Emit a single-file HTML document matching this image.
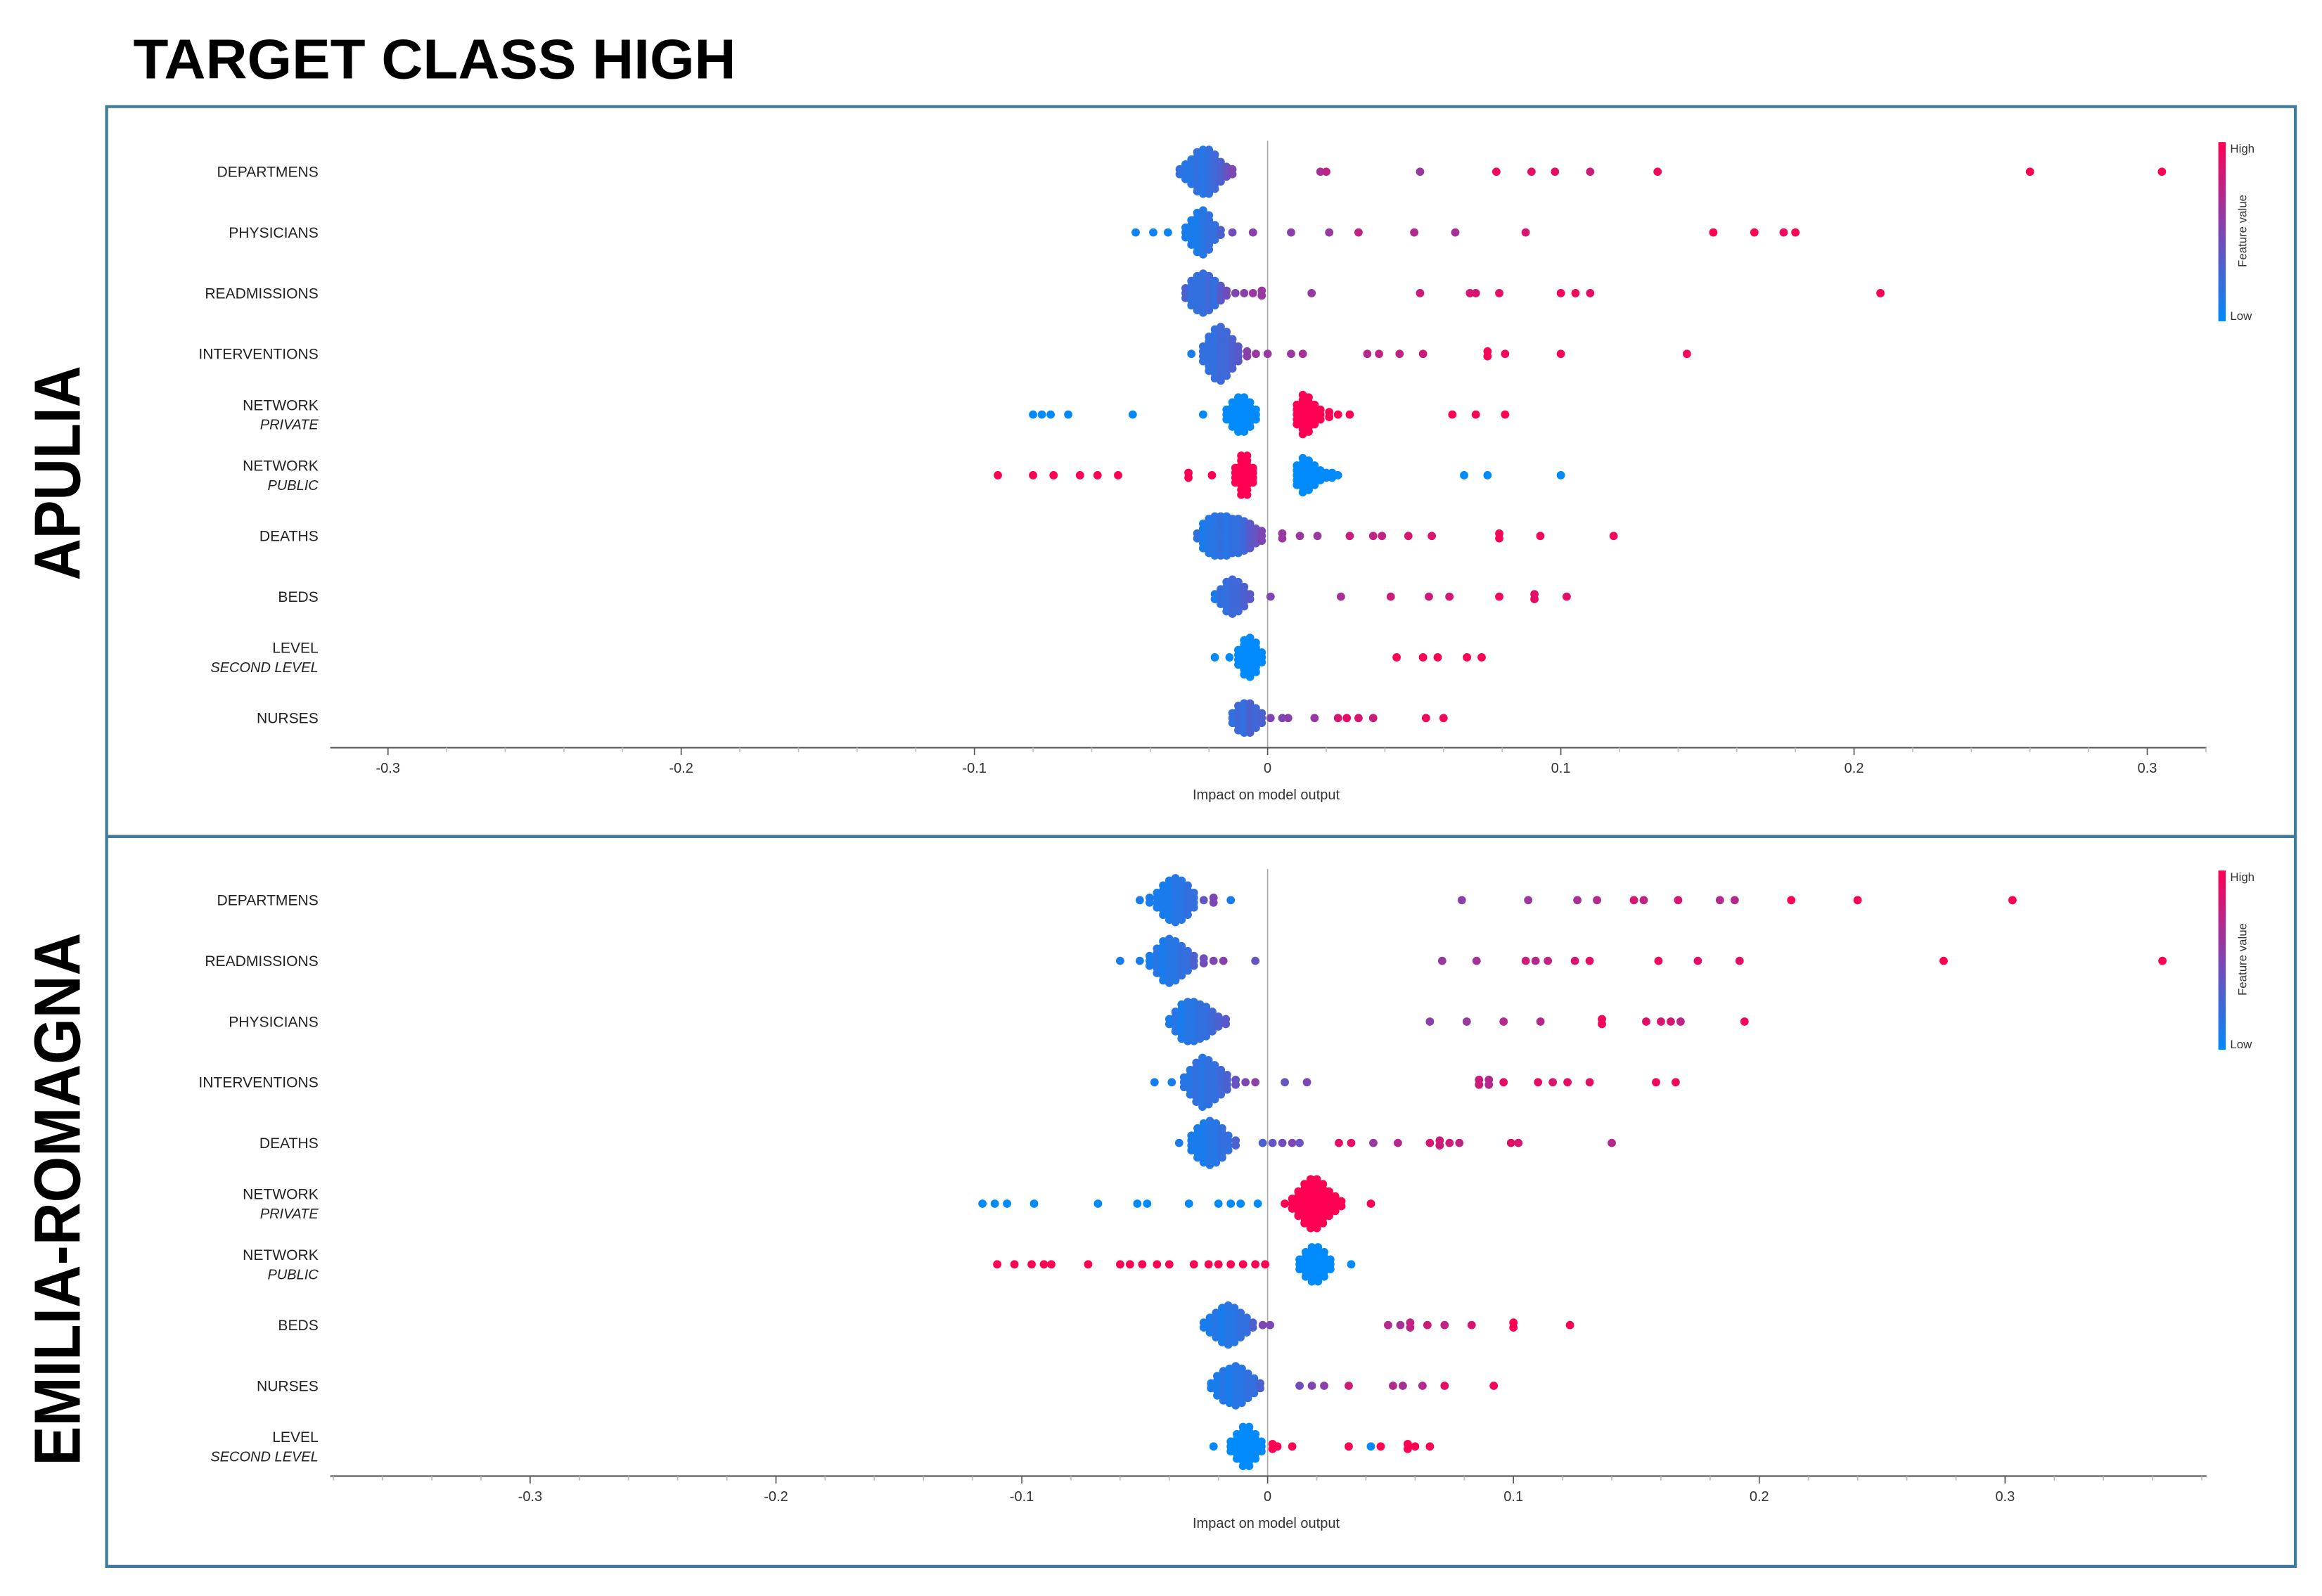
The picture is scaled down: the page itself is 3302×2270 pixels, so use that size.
<!DOCTYPE html>
<html><head><meta charset="utf-8"><style>
html,body{margin:0;padding:0;background:#fff;width:3302px;height:2270px;overflow:hidden}
svg{display:block}
text{font-family:"Liberation Sans",sans-serif}
</style></head><body>
<svg id="root" width="3302" height="2270" viewBox="0 0 1568 1078" preserveAspectRatio="none" xmlns="http://www.w3.org/2000/svg">
<defs><linearGradient id="cb" x1="0" y1="1" x2="0" y2="0"><stop offset="0" stop-color="#008afb"/><stop offset="0.5" stop-color="#7e46b4"/><stop offset="1" stop-color="#ff0052"/></linearGradient></defs>
<text x="90" y="53" font-size="38" font-weight="bold" textLength="407" lengthAdjust="spacingAndGlyphs">TARGET CLASS HIGH</text>
<rect x="72" y="72" width="1478" height="493" fill="none" stroke="#3f7a9a" stroke-width="2"/>
<rect x="72" y="565" width="1478" height="493" fill="none" stroke="#3f7a9a" stroke-width="2"/>
<text transform="translate(54,392) rotate(-90)" font-size="44" font-weight="bold" textLength="145" lengthAdjust="spacingAndGlyphs">APULIA</text>
<text transform="translate(54,990) rotate(-90)" font-size="44" font-weight="bold" textLength="360" lengthAdjust="spacingAndGlyphs">EMILIA-ROMAGNA</text>
<g id="p1"></g>
<g id="p2"></g>
</svg>
<script>
const NS="http://www.w3.org/2000/svg";
// ---- APULIA data ----
const apuliaFeatures=["DEPARTMENS","PHYSICIANS","READMISSIONS","INTERVENTIONS","NETWORK|PRIVATE","NETWORK|PUBLIC","DEATHS","BEDS","LEVEL|SECOND LEVEL","NURSES"];
const apuliaTicks=[-0.3,-0.2,-0.1,0,0.1,0.2,0.3];
const apuliaTickLabels=["-0.3","-0.2","-0.1","0","0.1","0.2","0.3"];
// each point: [shap value, feature value 0..1, count]
const apuliaDepartmens=[[-0.030,.2,2],[-0.028,.15,4],[-0.026,.15,6],[-0.024,.2,9],[-0.022,.15,10],[-0.020,.2,10],[-0.018,.25,8],[-0.016,.3,5],[-0.014,.4,3],[-0.012,.5,2],[0.018,.65,1],[0.020,.75,1],[0.052,.6,1],[0.078,.95,1],[0.090,.9,1],[0.098,.9,1],[0.110,.8,1],[0.133,.95,1],[0.260,1,1],[0.305,1,1]];
const apuliaPhysicians=[[-0.045,.05,1],[-0.039,.05,1],[-0.034,.05,1],[-0.028,.1,3],[-0.026,.1,6],[-0.024,.1,9],[-0.022,.15,10],[-0.020,.2,8],[-0.018,.2,4],[-0.016,.3,2],[-0.012,.45,1],[-0.005,.55,1],[0.008,.55,1],[0.021,.6,1],[0.031,.75,1],[0.050,.7,1],[0.064,.65,1],[0.088,.85,1],[0.152,1,1],[0.166,1,1],[0.176,.95,1],[0.180,1,1]];
const apuliaReadmissions=[[-0.028,.3,3],[-0.026,.2,6],[-0.024,.2,8],[-0.022,.2,9],[-0.020,.25,8],[-0.018,.2,6],[-0.016,.35,4],[-0.014,.45,2],[-0.011,.5,1],[-0.008,.55,1],[-0.005,.6,1],[-0.002,.6,2],[0.015,.6,1],[0.052,.8,1],[0.069,.85,1],[0.071,.85,1],[0.079,.9,1],[0.100,.95,1],[0.105,.95,1],[0.110,.9,1],[0.209,1,1]];
const apuliaInterventions=[[-0.026,.1,1],[-0.022,.2,4],[-0.020,.2,8],[-0.018,.2,11],[-0.016,.25,12],[-0.014,.25,10],[-0.012,.3,7],[-0.010,.35,4],[-0.007,.55,2],[-0.004,.6,1],[0.000,.6,1],[0.008,.6,1],[0.012,.65,1],[0.034,.7,1],[0.038,.75,1],[0.045,.75,1],[0.053,.8,1],[0.075,.95,2],[0.081,.95,1],[0.100,.95,1],[0.143,.95,1]];
const apuliaNetPrivate=[[-0.080,0,1],[-0.077,0,1],[-0.074,0,1],[-0.068,0,1],[-0.046,0,1],[-0.022,0,1],[-0.014,0,3],[-0.012,0,6],[-0.010,0,8],[-0.008,0,8],[-0.006,0,6],[-0.004,0,3],[0.010,1,5],[0.012,1,9],[0.014,1,8],[0.016,1,5],[0.018,1,3],[0.021,1,2],[0.024,1,1],[0.028,1,1],[0.063,1,1],[0.071,1,1],[0.081,1,1]];
const apuliaNetPublic=[[-0.092,1,1],[-0.080,1,1],[-0.073,1,1],[-0.064,1,1],[-0.058,1,1],[-0.051,1,1],[-0.027,1,2],[-0.019,1,1],[-0.011,1,4],[-0.009,1,9],[-0.007,1,9],[-0.005,1,4],[0.010,0,5],[0.012,0,8],[0.014,0,7],[0.016,0,5],[0.018,0,3],[0.020,0,2],[0.022,0,2],[0.024,0,1],[0.067,0,1],[0.075,0,1],[0.100,0,1]];
const apuliaDeaths=[[-0.024,.2,2],[-0.022,.1,6],[-0.020,.15,8],[-0.018,.15,9],[-0.016,.2,9],[-0.014,.15,9],[-0.012,.2,8],[-0.010,.2,8],[-0.008,.25,7],[-0.006,.35,6],[-0.004,.4,4],[-0.002,.5,3],[0.005,.6,2],[0.011,.6,1],[0.017,.6,1],[0.028,.8,1],[0.036,.75,1],[0.039,.75,1],[0.048,.85,1],[0.056,.85,1],[0.079,.95,2],[0.093,.95,1],[0.118,.95,1]];
const apuliaBeds=[[-0.018,.1,2],[-0.016,.2,4],[-0.014,.2,7],[-0.012,.25,8],[-0.010,.25,7],[-0.008,.3,5],[-0.006,.35,2],[0.001,.5,1],[0.025,.65,1],[0.042,.8,1],[0.055,.8,1],[0.062,.85,1],[0.079,.95,1],[0.091,.9,2],[0.102,.9,1]];
const apuliaLevel=[[-0.018,0,1],[-0.013,0,1],[-0.010,0,4],[-0.008,0,8],[-0.006,0,9],[-0.004,0,7],[-0.002,0,3],[0.044,1,1],[0.053,1,1],[0.058,1,1],[0.068,1,1],[0.073,1,1]];
const apuliaNurses=[[-0.012,.2,3],[-0.010,.25,6],[-0.008,.2,7],[-0.006,.3,7],[-0.004,.25,5],[-0.002,.3,3],[0.001,.5,1],[0.005,.5,1],[0.007,.55,1],[0.016,.6,1],[0.024,.85,1],[0.027,.9,1],[0.031,.85,1],[0.036,.8,1],[0.054,.95,1],[0.060,.95,1]];
// ---- EMILIA-ROMAGNA data ----
const emiliaFeatures=["DEPARTMENS","READMISSIONS","PHYSICIANS","INTERVENTIONS","DEATHS","NETWORK|PRIVATE","NETWORK|PUBLIC","BEDS","NURSES","LEVEL|SECOND LEVEL"];
const emiliaTicks=[-0.3,-0.2,-0.1,0,0.1,0.2,0.3];
const emiliaTickLabels=["-0.3","-0.2","-0.1","0","0.1","0.2","0.3"];
const emiliaDepartmens=[[-0.052,.1,1],[-0.048,.1,2],[-0.045,.1,4],[-0.0425,.1,7],[-0.040,.1,9],[-0.0375,.15,10],[-0.035,.15,9],[-0.0325,.2,7],[-0.030,.2,4],[-0.026,.4,1],[-0.022,.5,2],[-0.015,.1,1],[0.079,.55,1],[0.106,.6,1],[0.126,.65,1],[0.134,.7,1],[0.149,.85,1],[0.153,.75,1],[0.167,.85,1],[0.184,.7,1],[0.190,.7,1],[0.213,1,1],[0.240,1,1],[0.303,1,1]];
const emiliaReadmissions=[[-0.060,.1,1],[-0.052,.1,1],[-0.048,.1,3],[-0.045,.15,6],[-0.0425,.1,9],[-0.040,.15,10],[-0.0375,.15,9],[-0.035,.2,7],[-0.0325,.2,5],[-0.030,.3,3],[-0.026,.45,2],[-0.022,.5,1],[-0.018,.55,1],[-0.005,.4,1],[0.071,.6,1],[0.085,.65,1],[0.105,.8,1],[0.109,.7,1],[0.114,.75,1],[0.125,.85,1],[0.131,.9,1],[0.159,.95,1],[0.175,.9,1],[0.192,.9,1],[0.275,1,1],[0.364,1,1]];
const emiliaPhysicians=[[-0.040,.1,2],[-0.0375,.15,5],[-0.035,.1,8],[-0.0325,.15,9],[-0.030,.15,9],[-0.0275,.2,8],[-0.025,.2,7],[-0.0225,.25,5],[-0.020,.3,3],[-0.017,.35,2],[0.066,.55,1],[0.081,.6,1],[0.096,.7,1],[0.111,.7,1],[0.136,.95,2],[0.154,.9,1],[0.160,.85,1],[0.164,.85,1],[0.168,.75,1],[0.194,.95,1]];
const emiliaInterventions=[[-0.046,.1,1],[-0.039,.1,1],[-0.034,.15,3],[-0.0315,.15,6],[-0.029,.2,9],[-0.0265,.15,11],[-0.024,.2,10],[-0.0215,.2,8],[-0.019,.25,6],[-0.0165,.3,4],[-0.013,.4,2],[-0.009,.5,1],[-0.005,.55,1],[0.007,.4,1],[0.016,.5,1],[0.086,.8,2],[0.090,.7,2],[0.096,.9,1],[0.110,.9,1],[0.116,.85,1],[0.122,.9,1],[0.131,.9,1],[0.158,.95,1],[0.166,.95,1]];
const emiliaDeaths=[[-0.036,.1,1],[-0.031,.1,4],[-0.0285,.1,7],[-0.026,.1,9],[-0.0235,.15,10],[-0.021,.15,9],[-0.0185,.2,7],[-0.016,.2,4],[-0.013,.3,2],[-0.002,.3,1],[0.002,.4,1],[0.006,.45,1],[0.010,.5,1],[0.013,.4,1],[0.029,.9,1],[0.034,.9,1],[0.043,.6,1],[0.053,.7,1],[0.066,.85,1],[0.070,.8,2],[0.074,.8,1],[0.078,.75,1],[0.099,.9,1],[0.102,.85,1],[0.140,.7,1]];
const emiliaNetPrivate=[[-0.116,0,1],[-0.111,0,1],[-0.106,0,1],[-0.095,0,1],[-0.069,0,1],[-0.053,0,1],[-0.049,0,1],[-0.032,0,1],[-0.020,0,1],[-0.015,0,1],[-0.011,0,1],[-0.004,0,1],[0.007,1,1],[0.010,1,3],[0.0125,1,6],[0.015,1,9],[0.0175,1,11],[0.020,1,11],[0.0225,1,9],[0.025,1,6],[0.0275,1,4],[0.030,1,2],[0.042,1,1]];
const emiliaNetPublic=[[-0.110,1,1],[-0.103,1,1],[-0.096,1,1],[-0.091,1,1],[-0.088,1,1],[-0.073,1,1],[-0.060,1,1],[-0.056,1,1],[-0.051,1,1],[-0.045,1,1],[-0.040,1,1],[-0.030,1,1],[-0.024,1,1],[-0.020,1,1],[-0.015,1,1],[-0.010,1,1],[-0.005,1,1],[-0.001,1,1],[0.013,0,3],[0.0155,0,6],[0.018,0,8],[0.0205,0,8],[0.023,0,6],[0.0255,0,3],[0.034,0,1]];
const emiliaBeds=[[-0.026,.1,2],[-0.0235,.1,4],[-0.021,.15,6],[-0.0185,.1,8],[-0.016,.15,9],[-0.0135,.15,8],[-0.011,.2,6],[-0.0085,.2,4],[-0.006,.3,2],[-0.002,.5,1],[0.001,.5,1],[0.049,.7,1],[0.054,.65,1],[0.058,.75,2],[0.065,.8,1],[0.072,.75,1],[0.083,.85,1],[0.100,1,2],[0.123,1,1]];
const emiliaNurses=[[-0.023,.1,2],[-0.0205,.1,5],[-0.018,.15,7],[-0.0155,.1,8],[-0.013,.15,9],[-0.0105,.15,8],[-0.008,.2,6],[-0.0055,.2,4],[-0.003,.3,2],[0.013,.45,1],[0.018,.5,1],[0.023,.55,1],[0.033,.8,1],[0.051,.7,1],[0.055,.65,1],[0.063,.7,1],[0.072,.9,1],[0.092,.95,1]];
const emiliaLevel=[[-0.022,0,1],[-0.015,0,3],[-0.0125,0,6],[-0.010,0,9],[-0.0075,0,9],[-0.005,0,6],[-0.0025,0,3],[0.002,1,2],[0.004,1,1],[0.010,1,1],[0.033,1,1],[0.042,0,1],[0.046,1,1],[0.057,1,2],[0.060,1,1],[0.066,1,1]];

const apuliaSeries=[apuliaDepartmens,apuliaPhysicians,apuliaReadmissions,apuliaInterventions,apuliaNetPrivate,apuliaNetPublic,apuliaDeaths,apuliaBeds,apuliaLevel,apuliaNurses];
const emiliaSeries=[emiliaDepartmens,emiliaReadmissions,emiliaPhysicians,emiliaInterventions,emiliaDeaths,emiliaNetPrivate,emiliaNetPublic,emiliaBeds,emiliaNurses,emiliaLevel];

function colorOf(t){
  const a=[0,138,251],m=[126,70,180],b=[255,0,82];
  let c;
  if(t<=0.5){const u=t/0.5;c=a.map((v,i)=>Math.round(v+(m[i]-v)*u));}
  else{const u=(t-0.5)/0.5;c=m.map((v,i)=>Math.round(v+(b[i]-v)*u));}
  return "rgb("+c.join(",")+")";
}
function mk(tag,attrs,parent){const e=document.createElementNS(NS,tag);for(const k in attrs)e.setAttribute(k,attrs[k]);parent.appendChild(e);return e;}

function drawPanel(g,cfg){
  const x=v=>cfg.zero+v*cfg.scale;
  const y=i=>cfg.top+i*cfg.step;
  // zero line
  const zl=mk("line",{x1:x(0),x2:x(0),y1:cfg.top-21,y2:cfg.axisY,stroke:"#aaa","stroke-width":0.8},g);
  
  
  // feature labels
  cfg.features.forEach((f,i)=>{
    const parts=f.split("|");
    const t=mk("text",{x:215,y:y(i)+(parts.length>1?-3:3.5),"font-size":10,"text-anchor":"end",fill:"#222"},g);
    t.textContent=parts[0];
    
    
    if(parts.length>1){
      const s=mk("text",{x:215,y:y(i)+10,"font-size":9.5,"font-style":"italic","text-anchor":"end",fill:"#222"},g);
      s.textContent=parts[1];
      
      
    }
  });
  // dots
  cfg.series.forEach((pts,i)=>{
    pts.forEach(p=>{
      const n=p[2]||1;
      for(let k=0;k<n;k++){
        const off=(k-(n-1)/2)*3.3;
        const c=mk("circle",{cx:x(p[0]),cy:y(i)+off,r:2.8,fill:colorOf(p[1])},g);
        
        
      }
    });
  });
  // axis
  const ax=mk("line",{x1:223,x2:1490,y1:cfg.axisY,y2:cfg.axisY,stroke:"#555","stroke-width":1},g);
  
  
  const lo=Math.ceil(((223-cfg.zero)/cfg.scale)*50),hi=Math.floor(((1490-cfg.zero)/cfg.scale)*50);
  for(let j=lo;j<=hi;j++){
    const major=(j%5===0);
    const tk=mk("line",{x1:x(j/50),x2:x(j/50),y1:cfg.axisY,y2:cfg.axisY+(major?5:3),stroke:major?"#555":"#bbb","stroke-width":0.8},g);
    
    
  }
  cfg.ticks.forEach((v,k)=>{
    const t=mk("text",{x:x(v),y:cfg.axisY+17,"font-size":9.5,"text-anchor":"middle",fill:"#333"},g);
    t.textContent=cfg.tickLabels[k];
    
    
  });
  const xl=mk("text",{x:855,y:cfg.axisY+35,"font-size":9.5,"text-anchor":"middle",fill:"#333"},g);
  xl.textContent="Impact on model output";
  
  
  // colorbar
  const cb=mk("rect",{x:1498,y:cfg.cbTop,width:5,height:121,fill:"url(#cb)"},g);
  
  
  const hiT=mk("text",{x:1506,y:cfg.cbTop+7,"font-size":8,fill:"#333"},g);
  hiT.textContent="High";
  
  
  const loT=mk("text",{x:1506,y:cfg.cbTop+120,"font-size":8,fill:"#333"},g);
  loT.textContent="Low";
  
  
  const fv=mk("text",{transform:"translate(1517,"+(cfg.cbTop+60)+") rotate(-90)","font-size":8,"text-anchor":"middle",fill:"#333"},g);
  fv.textContent="Feature value";
  
  
}
drawPanel(document.getElementById("p1"),{zero:856,scale:1980,top:116,step:41,axisY:505,cbTop:96,features:apuliaFeatures,series:apuliaSeries,ticks:apuliaTicks,tickLabels:apuliaTickLabels});
drawPanel(document.getElementById("p2"),{zero:856,scale:1660,top:608,step:41,axisY:997,cbTop:588,features:emiliaFeatures,series:emiliaSeries,ticks:emiliaTicks,tickLabels:emiliaTickLabels});
</script>
</body></html>
